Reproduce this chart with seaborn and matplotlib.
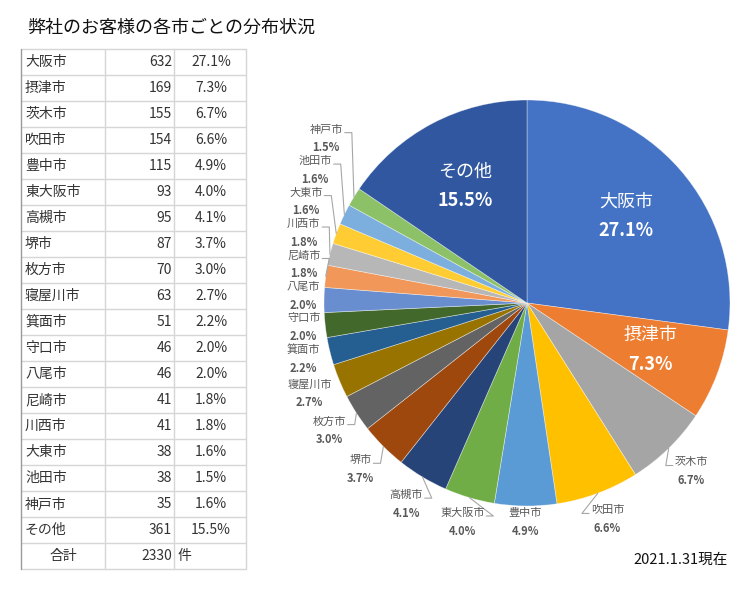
import numpy as np
import matplotlib.pyplot as plt
import seaborn as sns

# data
cities = ["大阪市", "摂津市", "茨木市", "吹田市", "豊中市", "東大阪市", "高槻市", "堺市",
          "枚方市", "寝屋川市", "箕面市", "守口市", "八尾市", "尼崎市", "川西市", "大東市",
          "池田市", "神戸市", "その他"]
counts = [632, 169, 155, 154, 115, 93, 95, 87, 70, 63, 51, 46, 46, 41, 41, 38, 38, 35, 361]
table_pct = ["27.1%", "7.3%", "6.7%", "6.6%", "4.9%", "4.0%", "4.1%", "3.7%", "3.0%", "2.7%",
             "2.2%", "2.0%", "2.0%", "1.8%", "1.8%", "1.6%", "1.5%", "1.6%", "15.5%"]
total = 2330
inside = ["大阪市", "摂津市", "その他"]

colors = ["#4472C4", "#ED7D31", "#A5A5A5", "#FFC000", "#5B9BD5", "#70AD47", "#264478",
          "#9E480E", "#636363", "#997300", "#255E91", "#43682B", "#698ED0", "#F1975A",
          "#B7B7B7", "#FFCD33", "#7CAFDD", "#8CC168", "#3057A0"]

sns.set_theme(style="white")
plt.rcParams["font.family"] = ["Noto Sans CJK JP", "DejaVu Sans"]

fig = plt.figure(figsize=(7.5, 6), dpi=100)
fig.text(27 / 750, 1 - 28 / 600, "弊社のお客様の各市ごとの分布状況", fontsize=13,
         va="center", ha="left", color="#111111")
fig.text(728 / 750, 1 - 560 / 600, "2021.1.31現在", fontsize=10.5,
         va="center", ha="right", color="#111111")

# table (pixel coordinates)
tab = fig.add_axes([0, 0, 1, 1])
tab.set_xlim(0, 750)
tab.set_ylim(600, 0)
tab.axis("off")
top, rh = 49, 26
xs = [21, 105, 174, 246]
nrows = len(cities) + 1
for i in range(nrows + 1):
    y = top + i * rh
    tab.plot([xs[0], xs[-1]], [y, y], color="#d6d6d6", lw=1)
for k, x in enumerate(xs):
    tab.plot([x, x], [top, top + nrows * rh], color="#9a9a9a" if k == 0 else "#d6d6d6", lw=1)
tc = "#333333"
for i, (c, n, p) in enumerate(zip(cities, counts, table_pct)):
    yc = top + i * rh + rh / 2
    tab.text(25, yc, c, fontsize=10, va="center", ha="left", color=tc)
    tab.text(172, yc, str(n), fontsize=10, va="center", ha="right", color=tc)
    tab.text(211, yc, p, fontsize=10, va="center", ha="center", color=tc)
yc = top + len(cities) * rh + rh / 2
tab.text(63, yc, "合計", fontsize=10, va="center", ha="center", color=tc)
tab.text(172, yc, str(total), fontsize=10, va="center", ha="right", color=tc)
tab.text(177, yc, "件", fontsize=10, va="center", ha="left", color=tc)

# pie
ax = fig.add_axes([324 / 750, 94 / 600, 406 / 750, 406 / 600])
wedges, _ = ax.pie(counts, colors=colors, startangle=90, counterclock=False,
                   wedgeprops=dict(linewidth=0.5, edgecolor=(1, 1, 1, 0.5)))
ax.set_xlim(-1, 1)
ax.set_ylim(-1, 1)
ax.set_aspect("equal")
ax.axis("off")

lc = "#595959"
prev_y = None
for w, c, n in zip(wedges, cities, counts):
    th = np.deg2rad((w.theta1 + w.theta2) / 2)
    pct = f"{n / total * 100:.1f}%"
    if c in inside:
        x, y = 0.65 * np.cos(th), 0.65 * np.sin(th)
        ax.text(x, y + 0.072, c, color="white", fontsize=13, ha="center", va="center")
        ax.text(x, y - 0.072, pct, color="white", fontsize=13, ha="center", va="center",
                fontweight="bold")
        continue
    r = 1.16 - 0.08 * max(0.0, -np.sin(th)) ** 20
    lx, ly = r * np.cos(th), r * np.sin(th)
    deg = np.rad2deg(th) % 360
    if 100 < deg < 210:
        lx = max(lx, -1.1)
        if prev_y is not None:
            ly = max(ly, prev_y + 0.155)
        prev_y = ly
    ax.text(lx, ly + 0.045, c, color=lc, fontsize=8, ha="center", va="center")
    ax.text(lx, ly - 0.045, pct, color=lc, fontsize=8, ha="center", va="center",
            fontweight="bold")
    hw = len(c) * 0.054 / 2
    s = 1 if lx < 0 else -1
    axp, ayp = lx + s * (hw + 0.01), ly + 0.03
    ex, ey = np.cos(th), np.sin(th)
    if abs(np.cos(th)) > 0.1 and np.hypot(axp - ex, ayp - ey) > 0.06:
        ax.plot([ex, axp + s * 0.035, axp], [ey, ayp, ayp], color="#a6a6a6", lw=0.8,
                clip_on=False)

fig.savefig("out.png", dpi=100)
